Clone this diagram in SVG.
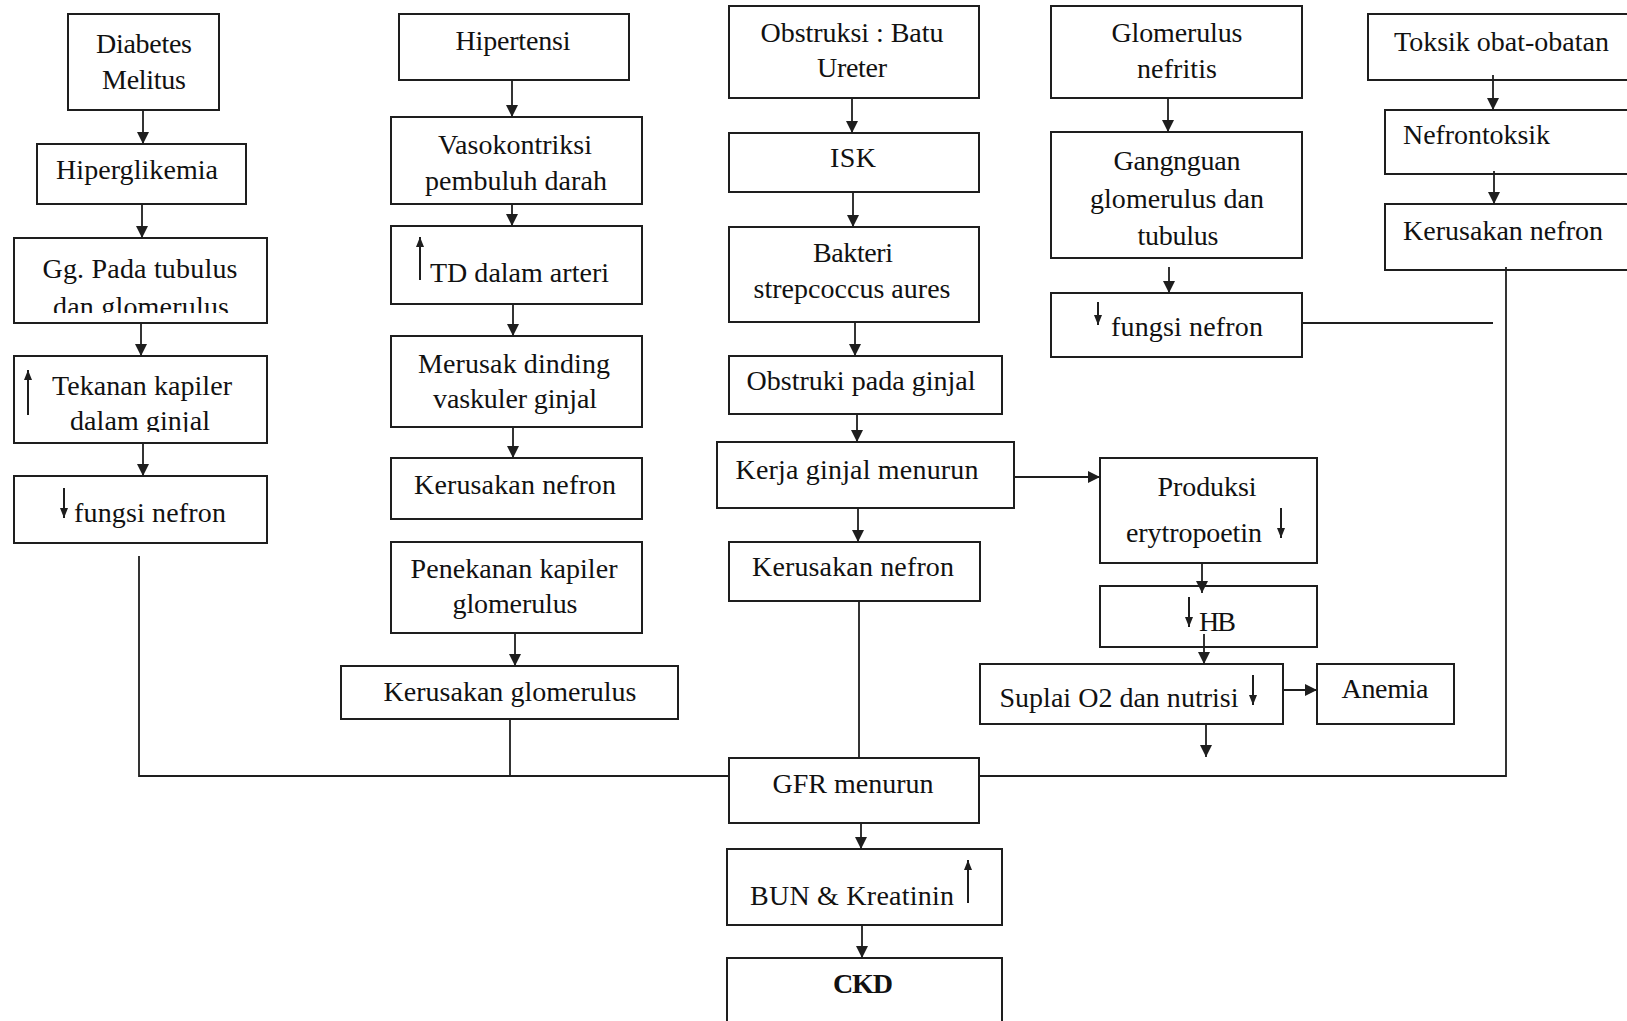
<svg xmlns="http://www.w3.org/2000/svg" width="1627" height="1021" viewBox="0 0 1627 1021">
<style>
.b{fill:#fff;stroke:#1e1e1e;stroke-width:2}
.t{font-family:"Liberation Serif","Times New Roman",serif;font-size:28px;fill:#111;text-anchor:middle}
.s{text-anchor:start}
.c{fill:none;stroke:#1e1e1e;stroke-width:1.8}
.i{fill:none;stroke:#1e1e1e;stroke-width:2}
</style>
<defs>
<marker id="ah" viewBox="0 0 12 12" refX="12" refY="6" markerWidth="12" markerHeight="12" markerUnits="userSpaceOnUse" orient="auto"><path d="M0,0 L12,6 L0,12 z" fill="#1e1e1e"/></marker>
<marker id="sh" viewBox="0 0 10 8" refX="10" refY="4" markerWidth="10" markerHeight="8" markerUnits="userSpaceOnUse" orient="auto"><path d="M0,0 L10,4 L0,8 z" fill="#1e1e1e"/></marker>
<clipPath id="cg"><rect x="14" y="238" width="253" height="75"/></clipPath>
<clipPath id="ct"><rect x="14" y="356" width="253" height="76"/></clipPath>
</defs>
<rect width="1627" height="1021" fill="#fff"/>

<g id="n-diabetes"><rect class="b" x="68" y="14" width="151" height="96"/>
<text class="t" x="144" y="53" textLength="96">Diabetes</text><text class="t" x="144" y="89" textLength="84">Melitus</text></g>
<g id="n-hiperglikemia"><rect class="b" x="37" y="144" width="209" height="60"/>
<text class="t" x="137" y="179" textLength="162">Hiperglikemia</text></g>
<g id="n-gg"><rect class="b" x="14" y="238" width="253" height="85"/>
<text class="t" x="140" y="278" textLength="195">Gg. Pada tubulus</text>
<text class="t" x="141" y="316" textLength="176" clip-path="url(#cg)">dan glomerulus</text></g>
<g id="n-tekanan"><rect class="b" x="14" y="356" width="253" height="87"/>
<line class="i" x1="28" y1="415" x2="28" y2="370" marker-end="url(#sh)"/>
<text class="t" x="142" y="395" textLength="180">Tekanan kapiler</text>
<text class="t" x="140" y="430" textLength="140" clip-path="url(#ct)">dalam ginjal</text></g>
<g id="n-fungsi1"><rect class="b" x="14" y="476" width="253" height="67"/>
<line class="i" x1="64" y1="488" x2="64" y2="518" marker-end="url(#sh)"/>
<text class="t s" x="74" y="522" textLength="152">fungsi nefron</text></g>

<g id="n-hipertensi"><rect class="b" x="399" y="14" width="230" height="66"/>
<text class="t" x="513" y="50" textLength="115">Hipertensi</text></g>
<g id="n-vaso"><rect class="b" x="391" y="117" width="251" height="87"/>
<text class="t" x="515" y="154" textLength="154">Vasokontriksi</text><text class="t" x="516" y="190" textLength="182">pembuluh darah</text></g>
<g id="n-td"><rect class="b" x="391" y="226" width="251" height="78"/>
<line class="i" x1="420" y1="280" x2="420" y2="237" marker-end="url(#sh)"/>
<text class="t s" x="430" y="282" textLength="179">TD dalam arteri</text></g>
<g id="n-merusak"><rect class="b" x="391" y="336" width="251" height="91"/>
<text class="t" x="514" y="373" textLength="192">Merusak dinding</text><text class="t" x="515" y="408" textLength="164">vaskuler ginjal</text></g>
<g id="n-kn1"><rect class="b" x="391" y="458" width="251" height="61"/>
<text class="t" x="515" y="494" textLength="202">Kerusakan nefron</text></g>
<g id="n-penekanan"><rect class="b" x="391" y="542" width="251" height="91"/>
<text class="t" x="514" y="578" textLength="207">Penekanan kapiler</text><text class="t" x="515" y="613" textLength="125">glomerulus</text></g>
<g id="n-kglom"><rect class="b" x="341" y="666" width="337" height="53"/>
<text class="t" x="510" y="701" textLength="253">Kerusakan glomerulus</text></g>

<g id="n-obstruksi"><rect class="b" x="729" y="6" width="250" height="92"/>
<text class="t" x="852" y="42" textLength="183">Obstruksi : Batu</text><text class="t" x="852" y="77" textLength="70">Ureter</text></g>
<g id="n-isk"><rect class="b" x="729" y="133" width="250" height="59"/>
<text class="t" x="853" y="167" textLength="46">ISK</text></g>
<g id="n-bakteri"><rect class="b" x="729" y="227" width="250" height="95"/>
<text class="t" x="853" y="262" textLength="80">Bakteri</text><text class="t" x="852" y="298" textLength="197">strepcoccus aures</text></g>
<g id="n-obstruki"><rect class="b" x="729" y="356" width="273" height="58"/>
<text class="t" x="861" y="390" textLength="229">Obstruki pada ginjal</text></g>
<g id="n-kerja"><rect class="b" x="717" y="442" width="297" height="66"/>
<text class="t" x="857" y="479" textLength="243">Kerja ginjal menurun</text></g>
<g id="n-kn2"><rect class="b" x="729" y="542" width="251" height="59"/>
<text class="t" x="853" y="576" textLength="202">Kerusakan nefron</text></g>

<g id="n-produksi"><rect class="b" x="1100" y="458" width="217" height="105"/>
<text class="t" x="1207" y="496" textLength="99">Produksi</text>
<text class="t" x="1194" y="542" textLength="136">erytropoetin</text>
<line class="i" x1="1281" y1="508" x2="1281" y2="538" marker-end="url(#sh)"/></g>
<g id="n-hb"><rect class="b" x="1100" y="586" width="217" height="61"/>
<line class="i" x1="1189" y1="597" x2="1189" y2="627" marker-end="url(#sh)"/>
<text class="t s" x="1199" y="631" textLength="37">HB</text></g>
<g id="n-suplai"><rect class="b" x="980" y="664" width="303" height="60"/>
<text class="t" x="1119" y="707" textLength="239">Suplai O2 dan nutrisi</text>
<line class="i" x1="1253" y1="675" x2="1253" y2="705" marker-end="url(#sh)"/></g>
<g id="n-anemia"><rect class="b" x="1317" y="664" width="137" height="60"/>
<text class="t" x="1385" y="698" textLength="87">Anemia</text></g>

<g id="n-glomerulus"><rect class="b" x="1051" y="6" width="251" height="92"/>
<text class="t" x="1177" y="42" textLength="131">Glomerulus</text><text class="t" x="1177" y="78" textLength="80">nefritis</text></g>
<g id="n-gangnguan"><rect class="b" x="1051" y="132" width="251" height="126"/>
<text class="t" x="1177" y="170" textLength="127">Gangnguan</text><text class="t" x="1177" y="208" textLength="174">glomerulus dan</text><text class="t" x="1178" y="245" textLength="81">tubulus</text></g>
<g id="n-fungsi2"><rect class="b" x="1051" y="293" width="251" height="64"/>
<line class="i" x1="1098" y1="302" x2="1098" y2="325" marker-end="url(#sh)"/>
<text class="t s" x="1111" y="336" textLength="152">fungsi nefron</text></g>

<g id="n-toksik"><rect class="b" x="1368" y="14" width="270" height="66"/>
<text class="t s" x="1394" y="51" textLength="215">Toksik obat-obatan</text></g>
<g id="n-nefrontoksik"><rect class="b" x="1385" y="110" width="253" height="64"/>
<text class="t s" x="1403" y="144" textLength="147">Nefrontoksik</text></g>
<g id="n-kn3"><rect class="b" x="1385" y="204" width="253" height="66"/>
<text class="t s" x="1403" y="240" textLength="200">Kerusakan nefron</text></g>

<g id="n-gfr"><rect class="b" x="729" y="758" width="250" height="65"/>
<text class="t" x="853" y="793" textLength="161">GFR menurun</text></g>
<g id="n-bun"><rect class="b" x="727" y="849" width="275" height="76"/>
<text class="t" x="852" y="905" textLength="204">BUN &amp; Kreatinin</text>
<line class="i" x1="968" y1="903" x2="968" y2="860" marker-end="url(#sh)"/></g>
<g id="n-ckd"><rect class="b" x="727" y="958" width="275" height="80"/>
<text class="t" x="863" y="993" font-weight="bold" textLength="60">CKD</text></g>

<g id="connectors">
<line class="c" x1="143" y1="110" x2="143" y2="144" marker-end="url(#ah)"/>
<line class="c" x1="142" y1="204" x2="142" y2="238" marker-end="url(#ah)"/>
<line class="c" x1="141" y1="323" x2="141" y2="356" marker-end="url(#ah)"/>
<line class="c" x1="143" y1="443" x2="143" y2="476" marker-end="url(#ah)"/>
<polyline class="c" points="139,556 139,776 729,776"/>
<line class="c" x1="510" y1="719" x2="510" y2="776"/>
<line class="c" x1="512" y1="80" x2="512" y2="117" marker-end="url(#ah)"/>
<line class="c" x1="512" y1="204" x2="512" y2="226" marker-end="url(#ah)"/>
<line class="c" x1="513" y1="304" x2="513" y2="336" marker-end="url(#ah)"/>
<line class="c" x1="513" y1="427" x2="513" y2="458" marker-end="url(#ah)"/>
<line class="c" x1="515" y1="633" x2="515" y2="666" marker-end="url(#ah)"/>
<line class="c" x1="852" y1="98" x2="852" y2="133" marker-end="url(#ah)"/>
<line class="c" x1="853" y1="192" x2="853" y2="227" marker-end="url(#ah)"/>
<line class="c" x1="855" y1="322" x2="855" y2="356" marker-end="url(#ah)"/>
<line class="c" x1="857" y1="414" x2="857" y2="442" marker-end="url(#ah)"/>
<line class="c" x1="858" y1="508" x2="858" y2="542" marker-end="url(#ah)"/>
<line class="c" x1="859" y1="601" x2="859" y2="758"/>
<line class="c" x1="1014" y1="477" x2="1100" y2="477" marker-end="url(#ah)"/>
<line class="c" x1="1202" y1="563" x2="1202" y2="593" marker-end="url(#ah)"/>
<line class="c" x1="1204" y1="634" x2="1204" y2="664" marker-end="url(#ah)"/>
<line class="c" x1="1283" y1="690" x2="1317" y2="690" marker-end="url(#ah)"/>
<line class="c" x1="1206" y1="725" x2="1206" y2="757" marker-end="url(#ah)"/>
<line class="c" x1="1168" y1="98" x2="1168" y2="132" marker-end="url(#ah)"/>
<line class="c" x1="1169" y1="267" x2="1169" y2="293" marker-end="url(#ah)"/>
<line class="c" x1="1302" y1="323" x2="1493" y2="323"/>
<line class="c" x1="1493" y1="75" x2="1493" y2="110" marker-end="url(#ah)"/>
<line class="c" x1="1494" y1="171" x2="1494" y2="204" marker-end="url(#ah)"/>
<polyline class="c" points="1506,267 1506,776 979,776"/>
<line class="c" x1="861" y1="823" x2="861" y2="849" marker-end="url(#ah)"/>
<line class="c" x1="862" y1="925" x2="862" y2="958" marker-end="url(#ah)"/>
</g>
</svg>
